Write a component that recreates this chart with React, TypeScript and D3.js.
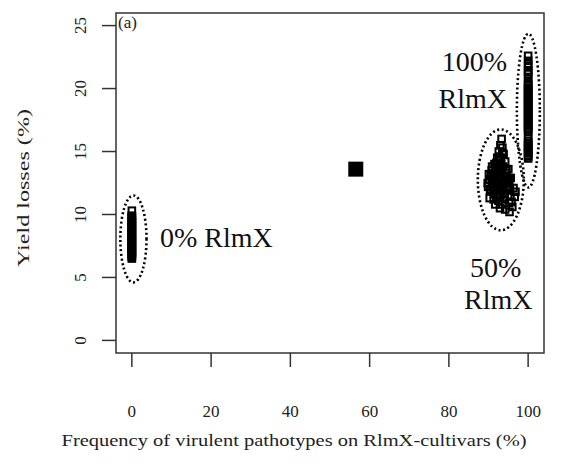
import React from "react";
import * as d3 from "d3";

const xTicks = [0, 20, 40, 60, 80, 100];
const yTicks = [0, 5, 10, 15, 20, 25];

const group0Y = [10.3, 9.9, 9.85, 9.7, 9.62, 9.5, 9.38, 9.3, 9.15, 9.05, 8.97, 8.85, 8.72, 8.66, 8.5, 8.43, 8.31, 8.2, 8.12, 8.0, 7.93, 7.8, 7.71, 7.6, 7.52, 7.4, 7.33, 7.2, 7.1, 7.02, 6.9, 6.81, 6.7, 6.62, 6.5];

const group100Y = [22.6, 22.2, 21.95, 21.8, 21.45, 21.3, 21.15, 20.85, 20.5, 20.35, 20.2, 20.05, 19.9, 19.78, 19.62, 19.5, 19.35, 19.2, 19.08, 18.95, 18.8, 18.66, 18.5, 18.4, 18.25, 18.1, 17.95, 17.82, 17.7, 17.55, 17.4, 17.28, 17.12, 17.0, 16.86, 16.72, 16.55, 16.15, 15.85, 15.7, 15.55, 15.42, 15.3, 15.15, 15.0, 14.87, 14.72, 14.6, 14.45];

const group50X = [93.3, 93.0, 93.5, 92.6, 93.8, 92.2, 93.0, 94.2, 91.5, 92.6, 93.7, 95.0, 90.8, 92.0, 94.4, 91.2, 93.1, 95.6, 90.2, 92.3, 94.0, 91.0, 93.4, 95.2, 90.5, 92.0, 94.6, 96.3, 91.4, 93.0, 95.5, 90.3, 92.5, 94.1, 96.6, 91.7, 93.5, 95.2, 96.0, 94.2, 95.3, 92.9, 96.8, 90.9, 93.9, 92.8, 91.8, 92.4, 93.6, 91.3, 94.8, 92.7, 93.2, 91.9, 90.6, 94.5, 92.1, 93.8, 95.8, 94.9,
  89.8, 90.1, 91.6, 92.9, 94.3, 95.1, 91.1, 92.3, 93.3, 94.7, 90.4, 91.5, 92.6, 93.9, 95.4, 90.9, 92.0, 93.1, 94.4, 91.3, 92.8, 94.0, 89.9, 91.8, 93.5];
const group50Y = [16.0, 15.5, 15.3, 15.0, 14.8, 14.5, 14.3, 14.2, 14.0, 13.9, 13.8, 13.6, 13.5, 13.4, 13.3, 13.0, 13.1, 12.9, 12.8, 12.7, 12.6, 12.3, 12.3, 12.4, 12.0, 11.9, 11.9, 12.1, 11.6, 11.5, 11.5, 11.3, 11.1, 11.2, 11.4, 10.8, 10.8, 10.9, 10.6, 10.4, 10.2, 10.5, 11.8, 12.6, 13.0, 12.0, 13.7, 13.2, 12.2, 12.9, 12.7, 14.6, 14.0, 12.4, 13.1, 13.5, 11.7, 11.7, 11.0, 12.2,
  12.5, 13.2, 13.3, 13.6, 13.0, 12.8, 12.0, 12.5, 12.0, 12.6, 11.9, 12.8, 13.0, 12.4, 12.1, 13.8, 14.1, 14.5, 13.6, 11.2, 11.4, 11.6, 12.2, 12.1, 14.9];

const meanPoint = { x: 56.5, y: 13.6 };

// ellipse annotations in data units: cx, cy, rx, ry
const ellipses = [
  { cx: 0.4, cy: 8.06, rx: 3.3, ry: 3.45 },
  { cx: 93.1, cy: 12.75, rx: 5.8, ry: 4.0 },
  { cx: 100.05, cy: 18.25, rx: 2.9, ry: 6.1 },
];

const W = 577;
const H = 474;

export default function App() {
  const x = d3.scaleLinear().domain([-4, 104]).range([116, 544]);
  const y = d3.scaleLinear().domain([-1, 26]).range([353, 13]);
  const sx = (d: number) => Math.abs(x(d) - x(0));
  const sy = (d: number) => Math.abs(y(d) - y(0));

  const pts: { x: number; y: number }[] = [];
  group0Y.forEach((v) => pts.push({ x: 0, y: v }));
  group100Y.forEach((v) => pts.push({ x: 100, y: v }));
  group50X.forEach((v, i) => pts.push({ x: v, y: group50Y[i] }));

  const ms = 6.6;
  const font = "Liberation Serif";
  const axisColor = "#333";

  return (
    <svg
      width={W}
      height={H}
      style={{ position: "absolute", left: 0, top: 0, background: "#fff", fontFamily: font }}
    >
      <rect x={0} y={0} width={W} height={H} fill="#fff" />
      {/* box */}
      <rect x={116} y={13} width={428} height={340} fill="none" stroke={axisColor} strokeWidth={1.5} />
      {/* x ticks */}
      {xTicks.map((t) => (
        <g key={"xt" + t}>
          <line x1={x(t)} x2={x(t)} y1={353} y2={367} stroke={axisColor} strokeWidth={1.5} />
          <text x={x(t)} y={417} textAnchor="middle" fontSize={17} fill="#222" style={{ fontFamily: font }}>
            {t}
          </text>
        </g>
      ))}
      {/* y ticks */}
      {yTicks.map((t) => (
        <g key={"yt" + t}>
          <line x1={102} x2={116} y1={y(t)} y2={y(t)} stroke={axisColor} strokeWidth={1.5} />
          <text
            transform={`translate(86,${y(t)}) rotate(-90)`}
            textAnchor="middle"
            fontSize={17}
            fill="#222"
            style={{ fontFamily: font }}
          >
            {t}
          </text>
        </g>
      ))}
      {/* axis titles */}
      <text x={294} y={446} textAnchor="middle" fontSize={17} fill="#222" textLength={465} lengthAdjust="spacingAndGlyphs" style={{ fontFamily: font }}>
        Frequency of virulent pathotypes on RlmX-cultivars (%)
      </text>
      <text
        transform={`translate(29,188) rotate(-90)`}
        textAnchor="middle"
        fontSize={17}
        fill="#222"
        textLength={158}
        lengthAdjust="spacingAndGlyphs"
        style={{ fontFamily: font }}
      >
        Yield losses (%)
      </text>
      {/* panel label */}
      <text x={118} y={28} fontSize={17} fill="#222" style={{ fontFamily: font }}>
        (a)
      </text>
      {/* points */}
      {pts.map((p, i) => (
        <rect
          key={"p" + i}
          x={x(p.x) - ms / 2}
          y={y(p.y) - ms / 2}
          width={ms}
          height={ms}
          fill="none"
          stroke="#000"
          strokeWidth={2}
        />
      ))}
      {/* mean point */}
      <rect x={x(meanPoint.x) - 7.5} y={y(meanPoint.y) - 7.5} width={15} height={15} fill="#000" />
      {/* ellipses */}
      {ellipses.map((e, i) => (
        <ellipse
          key={"e" + i}
          cx={x(e.cx)}
          cy={y(e.cy)}
          rx={sx(e.rx)}
          ry={sy(e.ry)}
          fill="none"
          stroke="#000"
          strokeWidth={2.6}
          strokeDasharray="2 2.6"
        />
      ))}
      {/* annotations */}
      <g fontSize={28} fill="#111" style={{ fontFamily: font }}>
        <text x={507} y={71} textAnchor="end">100%</text>
        <text x={507} y={108} textAnchor="end">RlmX</text>
        <text x={160} y={247}>0% RlmX</text>
        <text x={470} y={277}>50%</text>
        <text x={464} y={309}>RlmX</text>
      </g>
    </svg>
  );
}
